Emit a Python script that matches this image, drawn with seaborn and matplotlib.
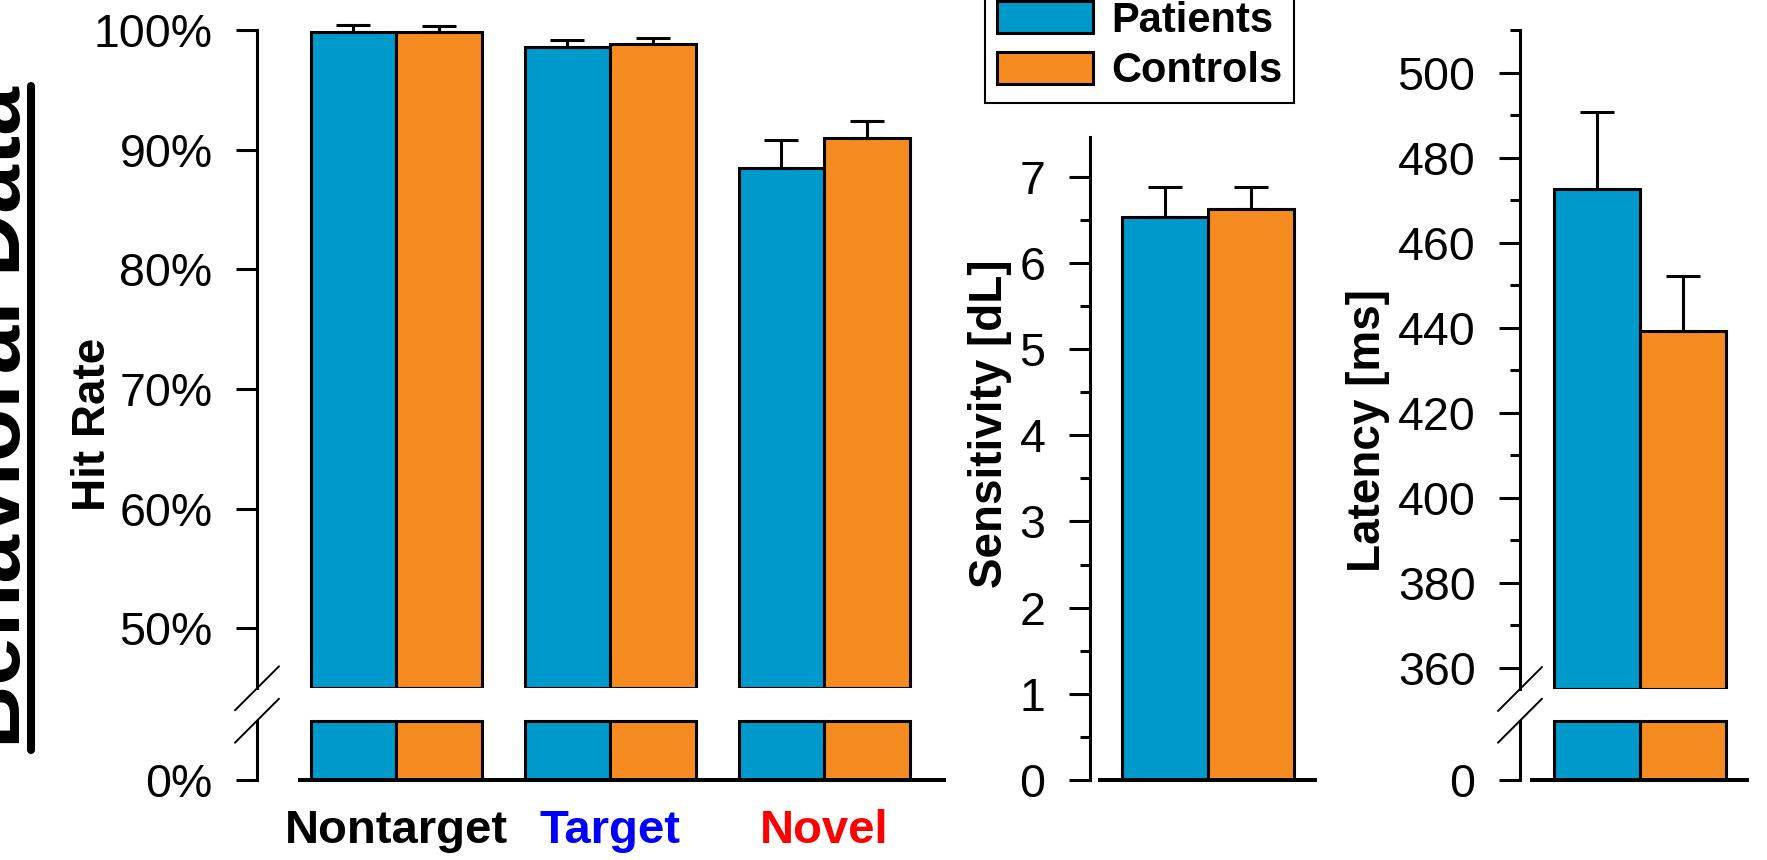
import numpy as np
import pandas as pd
import matplotlib
matplotlib.use("Agg")
import matplotlib.pyplot as plt
from matplotlib.lines import Line2D
from matplotlib.patches import Patch
from matplotlib.ticker import FixedLocator, MultipleLocator
import seaborn as sns

# ---------------- data ----------------
groups = ["Patients", "Controls"]
group_colors = ["#0099cc", "#f58b21"]

conditions = ["Nontarget", "Target", "Novel"]
condition_colors = ["black", "#0000ff", "#ff0000"]
hit_patients = [99.8, 98.6, 88.5]
hit_patients_se = [0.6, 0.6, 2.3]
hit_controls = [99.8, 98.85, 90.95]
hit_controls_se = [0.5, 0.5, 1.45]
hit_ticks = [50, 60, 70, 80, 90, 100]
hit_ticklabels = ["50%", "60%", "70%", "80%", "90%", "100%"]

sens_values = [6.53, 6.62]
sens_se = [0.35, 0.26]
sens_ticks = [0, 1, 2, 3, 4, 5, 6, 7]

lat_values = [472.6, 439.2]
lat_se = [18.2, 13.0]
lat_ticks = [360, 380, 400, 420, 440, 460, 480, 500]

# ---------------- style ----------------
sns.set_style("ticks")
plt.rcParams["font.family"] = ["Liberation Sans", "DejaVu Sans"]
plt.rcParams["axes.linewidth"] = 2.2
for key in ("text.color", "axes.labelcolor", "xtick.color", "ytick.color",
            "axes.edgecolor"):
    plt.rcParams[key] = "black"

W, H = 1767, 860
fig = plt.figure(figsize=(W / 100, H / 100), dpi=100)

LW = 2.2          # spine / edge width (pt)
TICK_FS = 33.5
LABEL_FS = 33


def axes_px(left, top, right, bottom):
    return fig.add_axes([left / W, 1 - bottom / H, (right - left) / W, (bottom - top) / H])


def style_axis(ax, offset_px, show_bottom):
    for s in ("top", "right"):
        ax.spines[s].set_visible(False)
    ax.spines["left"].set_position(("outward", offset_px * 0.72))
    ax.spines["left"].set_linewidth(LW)
    ax.spines["bottom"].set_visible(show_bottom)
    ax.spines["bottom"].set_linewidth(LW * 1.3)
    ax.tick_params(axis="y", which="major", length=15, width=LW, labelsize=TICK_FS,
                   pad=17, colors="black")
    ax.tick_params(axis="y", which="minor", length=7.5, width=LW, colors="black")
    ax.set_xlabel("")
    ax.set_ylabel("")
    ax.set_facecolor("none")


def bars(ax, df):
    sns.barplot(data=df, x="cond", y="value", hue="group", hue_order=groups,
                palette=group_colors, saturation=1, errorbar=None, width=0.8,
                edgecolor="black", linewidth=LW, legend=False, ax=ax)


def errbars(ax, df, n_cat):
    offs = (np.arange(len(groups)) - (len(groups) - 1) / 2) * 0.8 / len(groups)
    for gi, g in enumerate(groups):
        sub = df[df["group"] == g]
        x = np.arange(n_cat) + offs[gi]
        ax.errorbar(x, sub["value"].values, yerr=[np.zeros(len(sub)), sub["se"].values],
                    fmt="none", ecolor="black", elinewidth=LW, capsize=12.2,
                    capthick=LW, clip_on=False, zorder=1)


def lift_bottoms(ax, lo):
    for p in ax.patches:
        h = p.get_height()
        p.set_y(lo)
        p.set_height(h - lo)


def cap_tops(ax, hi):
    for p in ax.patches:
        p.set_height(min(p.get_height(), hi))
        p.set_clip_on(False)


def break_marks(spine_x, y_upper, y_lower):
    for yc in (y_upper, y_lower):
        fig.add_artist(Line2D([(spine_x - 22) / W, (spine_x + 22) / W],
                              [1 - (yc + 22) / H, 1 - (yc - 22) / H],
                              color="black", lw=1.4, transform=fig.transFigure))


# ---------------- hit rate panel ----------------
hit_df = pd.DataFrame({
    "cond": conditions * 2,
    "group": [groups[0]] * 3 + [groups[1]] * 3,
    "value": hit_patients + hit_controls,
    "se": hit_patients_se + hit_controls_se,
})

ax_hu = axes_px(300, 30, 944, 688.3)
ax_hl = axes_px(300, 720.7, 944, 780)
for ax in (ax_hu, ax_hl):
    bars(ax, hit_df)
errbars(ax_hu, hit_df, len(conditions))
ax_hu.set_ylim(45, 100)
lift_bottoms(ax_hu, 45)
ax_hl.set_ylim(0, 1)
cap_tops(ax_hl, 1)
for ax in (ax_hu, ax_hl):
    ax.set_xlim(-0.45, 2.56)

style_axis(ax_hu, 43, False)
style_axis(ax_hl, 43, True)
ax_hu.set_xticks([])
ax_hu.yaxis.set_major_locator(FixedLocator(hit_ticks))
ax_hu.set_yticklabels(hit_ticklabels)
ax_hl.set_yticks([0])
ax_hl.set_yticklabels(["0%"])
ax_hl.set_xticks(range(len(conditions)))
ax_hl.set_xticklabels(conditions, fontsize=34, fontweight="bold")
ax_hl.tick_params(axis="x", length=0, pad=21)
for lbl, c in zip(ax_hl.get_xticklabels(), condition_colors):
    lbl.set_color(c)
ax_hu.set_ylabel("Hit Rate", fontsize=LABEL_FS, fontweight="bold",
                 va="baseline", rotation_mode="anchor")
ax_hu.yaxis.set_label_coords(105 / W, 1 - 424 / H, transform=fig.transFigure)
break_marks(257, 688.3, 720.7)

# ---------------- sensitivity panel ----------------
sens_df = pd.DataFrame({"cond": ["d"] * 2, "group": groups,
                        "value": sens_values, "se": sens_se})
ax_s = axes_px(1100, 136.7, 1315, 780)
bars(ax_s, sens_df)
errbars(ax_s, sens_df, 1)
ax_s.set_xlim(-0.5, 0.5)
ax_s.set_ylim(0, 7.464)
style_axis(ax_s, 10, True)
ax_s.set_xticks([])
ax_s.yaxis.set_major_locator(FixedLocator(sens_ticks))
ax_s.yaxis.set_minor_locator(MultipleLocator(0.5))
ax_s.set_ylabel("Sensitivity [dL]", fontsize=LABEL_FS, fontweight="bold",
                va="baseline", rotation_mode="anchor")
ax_s.yaxis.set_label_coords(1002 / W, 1 - 424 / H, transform=fig.transFigure)

# ---------------- latency panel ----------------
lat_df = pd.DataFrame({"cond": ["ms"] * 2, "group": groups,
                       "value": lat_values, "se": lat_se})
ax_lu = axes_px(1532, 30.2, 1747, 689)
ax_ll = axes_px(1532, 720.7, 1747, 780)
for ax in (ax_lu, ax_ll):
    bars(ax, lat_df)
    ax.set_xlim(-0.5, 0.5)
errbars(ax_lu, lat_df, 1)
ax_lu.set_ylim(355, 510)
lift_bottoms(ax_lu, 355)
ax_ll.set_ylim(0, 1)
cap_tops(ax_ll, 1)
style_axis(ax_lu, 12, False)
style_axis(ax_ll, 12, True)
ax_lu.set_xticks([])
ax_ll.set_xticks([])
ax_lu.yaxis.set_major_locator(FixedLocator(lat_ticks))
ax_lu.yaxis.set_minor_locator(MultipleLocator(10))
ax_ll.set_yticks([0])
ax_ll.set_yticklabels(["0"])
ax_lu.set_ylabel("Latency [ms]", fontsize=LABEL_FS, fontweight="bold",
                 va="baseline", rotation_mode="anchor")
ax_lu.yaxis.set_label_coords(1380 / W, 1 - 430 / H, transform=fig.transFigure)
break_marks(1520, 689, 720.7)

# ---------------- legend ----------------
handles = [Patch(facecolor=c, edgecolor="black", linewidth=LW, label=g)
           for g, c in zip(groups, group_colors)]
leg = fig.legend(handles=handles, loc="lower left",
                 bbox_to_anchor=(985 / W, 1 - 103 / H), borderaxespad=0,
                 frameon=True, fancybox=False, edgecolor="black", framealpha=1,
                 prop={"weight": "bold", "size": 30}, handlelength=2.3,
                 handleheight=0.8, handletextpad=0.45, borderpad=0.28,
                 labelspacing=0.26)
leg.get_frame().set_linewidth(1.5)

# ---------------- side title ----------------
fig.text(20 / W, 1 - 417.5 / H, "Behavioral Data", rotation=90,
         rotation_mode="anchor", ha="center", va="baseline",
         fontsize=63, fontweight="bold")
fig.add_artist(Line2D([31 / W, 31 / W], [1 - 86 / H, 1 - 750 / H],
                      color="black", lw=5.8, transform=fig.transFigure))

fig.savefig("out.png", dpi=100)
